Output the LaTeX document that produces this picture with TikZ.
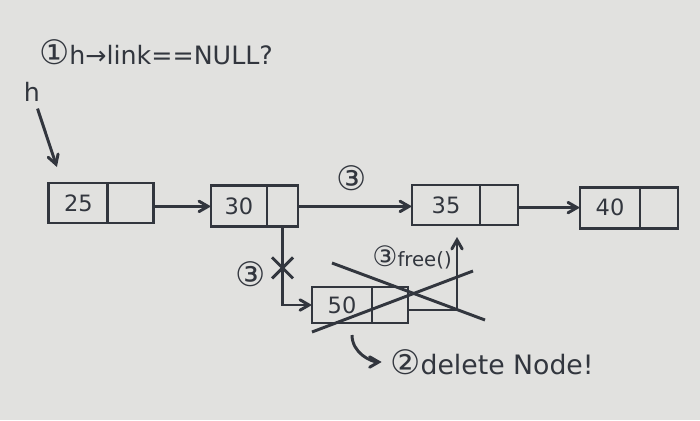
\documentclass[tikz,border=0pt]{standalone}
\usepackage{fontspec}
\setmainfont{DejaVu Sans}
\usetikzlibrary{positioning, arrows, shapes.misc}
\definecolor{paper}{RGB}{225,225,223}
\definecolor{ink}{RGB}{50,54,62}
\newcommand{\cnum}[1]{{\fontsize{24}{24}\selectfont #1}}
\tikzstyle{datafield} = [rectangle, draw=ink, line width=2.1pt, minimum height=1cm, minimum width=1.5cm, text=ink, font=\fontsize{16}{18}\selectfont, inner sep=0pt, outer sep=0pt]
\tikzstyle{linkfield} = [rectangle, draw=ink, line width=2.1pt, minimum height=1cm, minimum width=0.95cm, inner sep=0pt, outer sep=0pt]
\tikzstyle{arrow} = [draw=ink, line width=2.1pt, ->, >=angle 60]
\tikzstyle{note} = [text=ink, font=\fontsize{18}{20}\selectfont, inner sep=1pt]

\begin{document}
\begin{tikzpicture}
    \fill [paper] (0,0) rectangle (17.5,-10.5);
    \useasboundingbox (0,0) rectangle (17.5,-10.5);

    %nodes
    \node (d25) [datafield, minimum width=1.475cm] at (1.96,-5.075) {25};
    \node (l25) [linkfield, minimum width=1.15cm, right=0pt of d25] {};
    \node (d30) [datafield, minimum width=1.4cm, minimum height=1.025cm] at (5.975,-5.16) {30};
    \node (l30) [linkfield, minimum width=0.775cm, minimum height=1.025cm, right=0pt of d30] {};
    \node (d35) [datafield, minimum width=1.7cm] at (11.15,-5.125) {35};
    \node (l35) [linkfield, right=0pt of d35] {};
    \node (d40) [datafield, minimum height=1.025cm] at (15.25,-5.19) {40};
    \node (l40) [linkfield, minimum height=1.025cm, right=0pt of d40] {};
    \node (d50) [datafield, minimum height=0.9cm] at (8.55,-7.625) {50};
    \node (l50) [linkfield, minimum width=0.9cm, minimum height=0.9cm, right=0pt of d50] {};

    \node (h) [note] at (0.8,-2.3) {h};
    \node (title) [note] at (3.9,-1.3) {\cnum{①}h→link==NULL?};
    \node (cut) [cross out, draw=ink, line width=2.1pt, minimum size=0.45cm, yshift=-1.025cm] at (l30.south) {};
    \node (c3a) [note, left=0.12cm of cut, yshift=-0.15cm] {\cnum{③}};
    \node (c3b) [note] at (8.8,-4.45) {\cnum{③}};
    \node (free) [note, font=\fontsize{14}{16}\selectfont] at (10.3,-6.425) {{\fontsize{20}{20}\selectfont ③}free()};
    \node (del) [note, font=\fontsize{19}{21}\selectfont] at (12.3,-9.05) {\cnum{②}delete Node!};

    %arrows
    \draw [arrow, shorten <=4pt] (h) -- ([xshift=2mm,yshift=4mm]d25.north west);
    \draw [arrow] (l25.east |- d30.west) -- (d30.west);
    \draw [arrow] (l30.east) -- (l30.east -| d35.west);
    \draw [arrow] (l35.east |- d40.west) -- (d40.west);
    \draw [arrow] (l30.south) |- (d50.west);
    \draw [arrow] ([yshift=-1.25mm]l50.east) -| ([xshift=2.75mm,yshift=-3mm]d35.south);
    \draw [arrow, shorten >=5pt] ([xshift=2.5mm,yshift=-3mm]d50.south) to[out=-90, in=180] (del.west);

    %deleted node
    \draw [ink, line width=2.1pt] (8.3,-6.575) -- (12.125,-8.0);
    \draw [ink, line width=2.1pt] (7.8,-8.3) -- (11.825,-6.775);

\end{tikzpicture}
\end{document}
